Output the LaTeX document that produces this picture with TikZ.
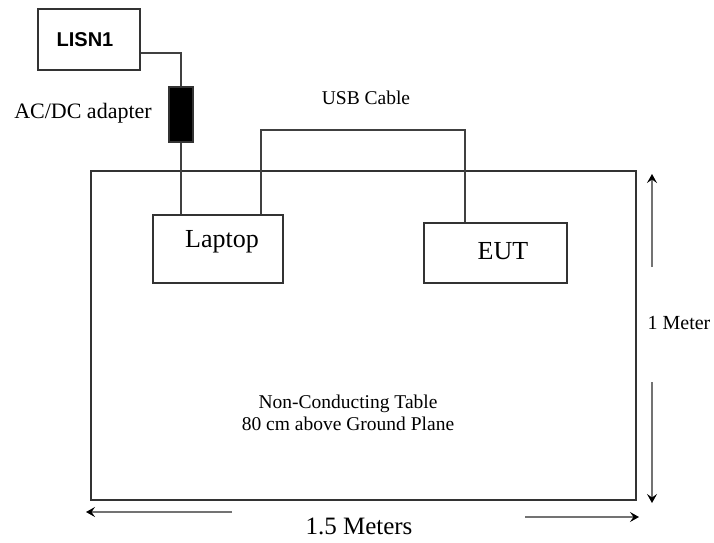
\documentclass[tikz,border=0pt]{standalone}
\usepackage{fontspec}
\setmainfont{Liberation Serif}
\newfontfamily\lisnfont{Liberation Sans}
\usepackage{tikz}
\usetikzlibrary{arrows.meta,positioning}

\begin{document}
\begin{tikzpicture}
[x=1pt,y=-1pt,
unit/.style={draw=black!80,line width=1.6pt,inner sep=0pt},
wire/.style={draw=black!75,line width=1.6pt},
dimarrow/.style={draw=black!55,line width=1.8pt,-{Stealth[color=black,length=9pt,width=10pt,inset=3.5pt]}},
lbl/.style={inner sep=0pt,font=\fontsize{19.5}{21}\selectfont}]
\useasboundingbox (0,0) rectangle (714,542);

% boxes
\node[unit,minimum width=102pt,minimum height=61pt] (lisn) at (89,39.5) {};
\node[inner sep=0pt,font=\lisnfont\bfseries\fontsize{20}{22}\selectfont] (lisntxt) at (85,40) {LISN1};
\node[unit,fill=black,minimum width=24pt,minimum height=55pt] (adapter) at (181,114.5) {};
\node[unit,minimum width=545pt,minimum height=329pt] (table) at (363.5,335.5) {};
\node[unit,minimum width=130pt,minimum height=68pt] (laptop) at (218,249) {};
\node[unit,minimum width=143pt,minimum height=60pt] (eut) at (495.5,253) {};

% texts
\node[lbl,font=\fontsize{22}{24}\selectfont] (adaptertxt) at (83,113) {AC/DC adapter};
\node[lbl] (usbtxt) at (366,98) {USB Cable};
\node[lbl,font=\fontsize{26}{28}\selectfont] (laptoptxt) at (222,242) {Laptop};
\node[lbl,font=\fontsize{26}{28}\selectfont] (euttxt) at (503,251) {EUT};
\node[lbl,align=center,font=\fontsize{19.5}{21.5}\selectfont] (tabletxt) at (348,413) {Non-Conducting Table\\80 cm above Ground Plane};
\node[lbl,font=\fontsize{20}{22}\selectfont] (metertxt) at (679,323) {1 Meter};
\node[lbl,font=\fontsize{25}{27}\selectfont] (meterstxt) at (359,526) {1.5 Meters};

% cables
\draw[wire] ([yshift=-13.5pt]lisn.east) -| (adapter.north);
\draw[wire] (adapter.south) -- (adapter.south |- laptop.north);
\draw[wire] ([xshift=43pt]laptop.north) -- ++(0,-84) -| ([xshift=-30.5pt]eut.north);

% dimensions
\coordinate (vtop) at (652,174);
\coordinate (vup) at (652,267);
\coordinate (vdown) at (652,382);
\coordinate (vbot) at (652,503);
\coordinate (hleft) at (86,512);
\coordinate (hlefts) at (232,512);
\coordinate (hrights) at (525,517);
\coordinate (hright) at (639,517);

\draw[dimarrow] (vup) -- (vtop);
\draw[dimarrow] (vdown) -- (vbot);
\draw[dimarrow] (hlefts) -- (hleft);
\draw[dimarrow] (hrights) -- (hright);
\end{tikzpicture}
\end{document}
